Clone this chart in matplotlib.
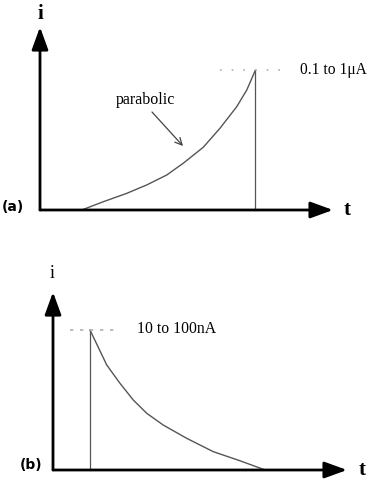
import matplotlib
matplotlib.use("Agg")
import matplotlib.pyplot as plt

# Panel (a): parabolic rise
t_a = [1.67, 2.53, 3.47, 4.27, 5.07, 5.73, 6.53, 7.2, 7.87, 8.27, 8.62]
i_a = [0.0, 0.59, 1.19, 1.79, 2.5, 3.34, 4.48, 5.84, 7.38, 8.57, 10.0]
label_a = "0.1 to 1μA"

# Panel (b): decay
t_b = [1.48, 2.15, 2.68, 3.21, 3.75, 4.41, 5.35, 6.41, 7.48, 8.41]
i_b = [10.0, 7.5, 6.19, 5.0, 4.05, 3.21, 2.26, 1.31, 0.66, 0.05]
label_b = "10 to 100nA"

W, H = 368, 479
fig = plt.figure(figsize=(W / 100, H / 100), dpi=100)
fig.patch.set_facecolor("white")

serif = "Liberation Serif"
sans = "DejaVu Sans"
curve_color = "#555555"
dot_color = "#b0b0b0"
arrow_style = "-|>,head_length=0.55,head_width=0.2"


def make_axes(left_px, origin_y_px, width_px, height_px, xmax, ymax):
    ax = fig.add_axes([left_px / W, (H - origin_y_px) / H, width_px / W, height_px / H])
    ax.set_xlim(0, xmax)
    ax.set_ylim(0, ymax)
    ax.axis("off")
    return ax


def axis_arrows(ax, xtip, ytip):
    for tip in [(xtip, 0), (0, ytip)]:
        ax.annotate("", xy=tip, xytext=(0, 0),
                    arrowprops=dict(arrowstyle=arrow_style, lw=2.0, color="black",
                                    mutation_scale=25, shrinkA=0, shrinkB=0),
                    annotation_clip=False)


# ---- Panel (a) ----
ax1 = make_axes(40, 210, 300, 190, 12, 190 / 14)
axis_arrows(ax1, 11.72, 13.07)
ax1.plot(t_a, i_a, color=curve_color, lw=1.0, clip_on=False)
ax1.plot([t_a[-1], t_a[-1]], [0, i_a[-1]], color=curve_color, lw=0.9, clip_on=False)
ax1.plot([7.2, 10.0], [i_a[-1], i_a[-1]], color=dot_color, lw=1.2,
         linestyle=(0, (1, 6)), clip_on=False)
ax1.text(10.4, i_a[-1], label_a, family=serif, fontsize=11.2, va="center", ha="left")
ax1.text(4.2, 7.86, "parabolic", family=serif, fontsize=11.5, va="center", ha="center")
ax1.annotate("", xy=(5.72, 4.57), xytext=(4.48, 7.0),
             arrowprops=dict(arrowstyle="->,head_length=0.5,head_width=0.25",
                             lw=0.9, color="#444444", shrinkA=0, shrinkB=0))
ax1.text(0, 14.0, "i", family=serif, fontsize=15, fontweight="bold",
         va="center", ha="center", clip_on=False)
ax1.text(12.28, 0, "t", family=serif, fontsize=15, fontweight="bold",
         va="center", ha="center", clip_on=False)
ax1.text(-1.08, 0.21, "(a)", family=sans, fontsize=10, fontweight="bold",
         va="center", ha="center", clip_on=False)

# ---- Panel (b) ----
ax2 = make_axes(53, 470, 300, 180, 12, 180 / 14)
axis_arrows(ax2, 11.76, 12.71)
ax2.plot(t_b, i_b, color=curve_color, lw=1.0, clip_on=False)
ax2.plot([t_b[0], t_b[0]], [0, i_b[0]], color=curve_color, lw=0.9, clip_on=False)
ax2.plot([0.68, 2.68], [i_b[0], i_b[0]], color=dot_color, lw=1.2,
         linestyle=(0, (2, 4)), clip_on=False)
ax2.text(3.36, 10.07, label_b, family=serif, fontsize=11.3, va="center", ha="left")
ax2.text(-0.04, 14.07, "i", family=serif, fontsize=13,
         va="center", ha="center", clip_on=False)
ax2.text(12.36, 0, "t", family=serif, fontsize=15, fontweight="bold",
         va="center", ha="center", clip_on=False)
ax2.text(-0.88, 0.36, "(b)", family=sans, fontsize=10, fontweight="bold",
         va="center", ha="center", clip_on=False)

fig.savefig("out.png", dpi=100, facecolor="white")
